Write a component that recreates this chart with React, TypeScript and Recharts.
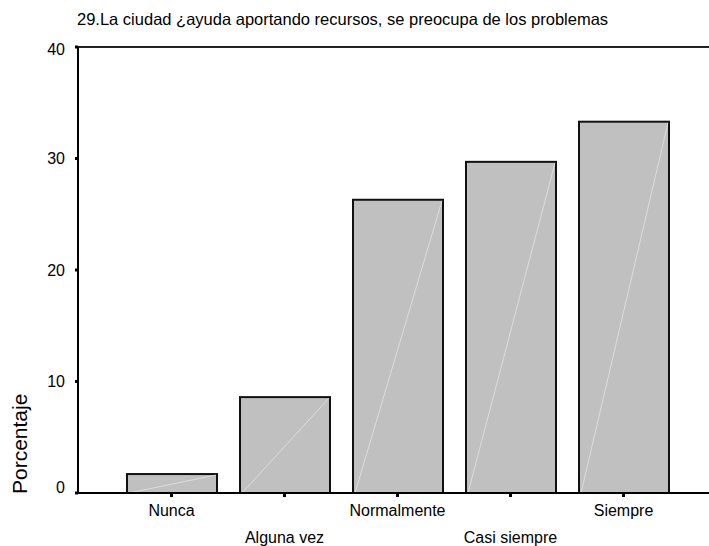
import { BarChart, Bar, XAxis, YAxis, ReferenceLine } from 'recharts';

const categories = ['Nunca', 'Alguna vez', 'Normalmente', 'Casi siempre', 'Siempre'];
const percentages = [1.7, 8.6, 26.3, 29.7, 33.3];
const yTicks = [0, 10, 20, 30, 40];

const title = '29.La ciudad ¿ayuda aportando recursos, se preocupa de los problemas';
const font = '"Liberation Sans", Arial, sans-serif';

const data = categories.map((name, i) => ({ name, value: percentages[i] }));

function BarShape(props: any) {
  const { x, y, width, height } = props;
  if (!height) return null;
  return (
    <g>
      <rect x={x} y={y} width={width} height={height} fill="#c0c0c0" stroke="#111" strokeWidth={2} />
      <line x1={x + 2} y1={y + height} x2={x + width - 1} y2={y + 1} stroke="#fff" strokeOpacity={0.45} strokeWidth={1} />
    </g>
  );
}

function YTick(props: any) {
  const { x, y, payload } = props;
  const shift = payload.value === 0 ? -6 : payload.value === 40 ? 2 : 0;
  return (
    <text x={x} y={y + shift} dy="0.355em" textAnchor="end" fill="#000" fontSize={16} fontFamily={font}>
      {payload.value}
    </text>
  );
}

function XTick(props: any) {
  const { x, y, payload, index } = props;
  return (
    <text x={x} y={y + (index % 2 === 0 ? 18.7 : 46.3)} textAnchor="middle" fill="#000" fontSize={16} fontFamily={font}>
      {payload.value}
    </text>
  );
}

function AxisTitle(props: any) {
  const { viewBox } = props;
  const x = viewBox.x + 26.5;
  const y = viewBox.y + viewBox.height + 1;
  return (
    <text x={x} y={y} transform={`rotate(-90, ${x}, ${y})`} textAnchor="start" fill="#000" fontSize={21} fontFamily={font}>
      Porcentaje
    </text>
  );
}

export default function App() {
  return (
    <div style={{ position: 'absolute', left: 0, top: 0, width: 709, height: 546, background: '#fff' }}>
      <div
        style={{
          position: 'absolute',
          left: 77,
          top: 10,
          fontFamily: font,
          fontSize: 16.5,
          lineHeight: 'normal',
          color: '#000',
          whiteSpace: 'nowrap',
        }}
      >
        {title}
      </div>
      <BarChart width={709} height={546} data={data} margin={{ top: 47, right: 0, bottom: 0, left: 0 }} barSize={90}>
        <ReferenceLine y={40} stroke="#222" strokeWidth={2} />
        <XAxis
          dataKey="name"
          height={53}
          padding={{ left: 37, right: 29 }}
          axisLine={{ stroke: '#000', strokeWidth: 2 }}
          tickLine={{ stroke: '#000', strokeWidth: 3 }}
          tickSize={4}
          tickMargin={0}
          interval={0}
          tick={<XTick />}
        />
        <YAxis
          width={78}
          domain={[0, 40]}
          ticks={yTicks}
          axisLine={{ stroke: '#000', strokeWidth: 2 }}
          tickLine={{ stroke: '#000', strokeWidth: 3 }}
          tickSize={3}
          tickMargin={10}
          tick={<YTick />}
          label={<AxisTitle />}
        />
        <Bar dataKey="value" shape={<BarShape />} isAnimationActive={false} />
      </BarChart>
    </div>
  );
}
